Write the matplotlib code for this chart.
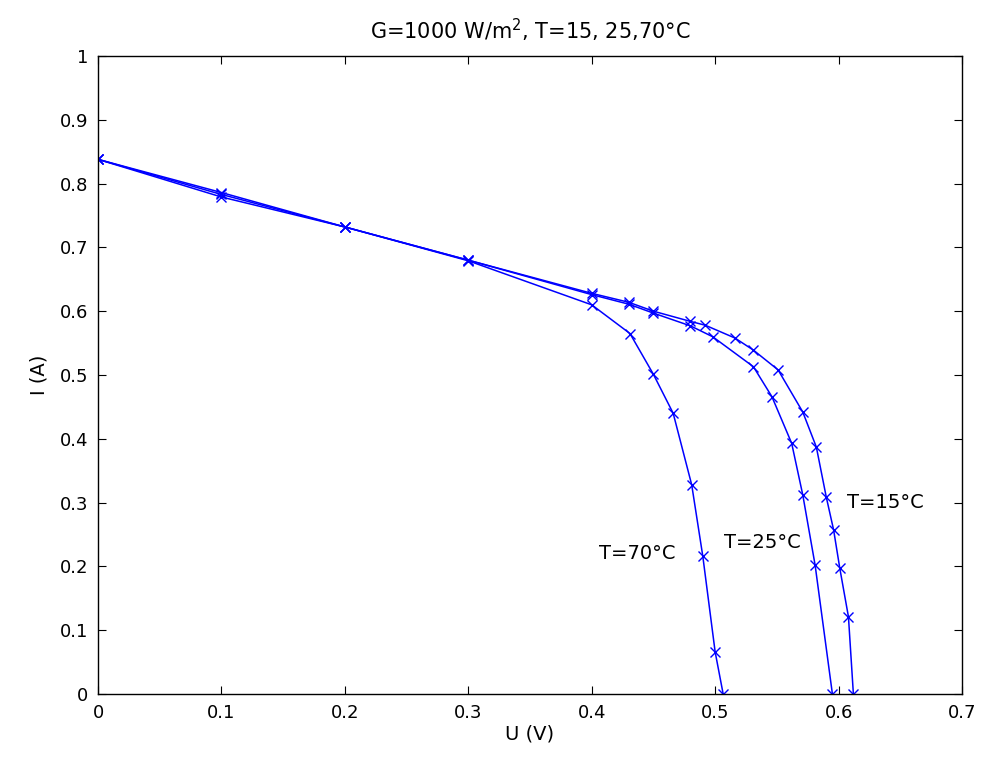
import matplotlib
matplotlib.use("Agg")
import matplotlib.pyplot as plt

u_15 = [0.0, 0.1, 0.2, 0.3, 0.4, 0.43, 0.45, 0.48, 0.492, 0.516, 0.531, 0.551, 0.571, 0.582, 0.590, 0.596, 0.601, 0.608, 0.612]
i_15 = [0.838, 0.786, 0.732, 0.680, 0.628, 0.614, 0.600, 0.584, 0.578, 0.558, 0.539, 0.508, 0.442, 0.387, 0.309, 0.257, 0.197, 0.121, 0.0]

u_25 = [0.0, 0.1, 0.2, 0.3, 0.4, 0.43, 0.45, 0.48, 0.498, 0.531, 0.546, 0.562, 0.571, 0.581, 0.595]
i_25 = [0.838, 0.783, 0.732, 0.680, 0.626, 0.611, 0.597, 0.577, 0.560, 0.513, 0.466, 0.393, 0.312, 0.202, 0.0]

u_70 = [0.0, 0.1, 0.2, 0.3, 0.4, 0.431, 0.450, 0.466, 0.481, 0.490, 0.500, 0.5065]
i_70 = [0.838, 0.779, 0.732, 0.679, 0.610, 0.565, 0.501, 0.440, 0.328, 0.216, 0.066, 0.0]

labels = ["T=15°C", "T=25°C", "T=70°C"]
label_pos = [(0.607, 0.30), (0.507, 0.237), (0.406, 0.221)]

xticks = [0, 0.1, 0.2, 0.3, 0.4, 0.5, 0.6, 0.7]
yticks = [0, 0.1, 0.2, 0.3, 0.4, 0.5, 0.6, 0.7, 0.8, 0.9, 1]

plt.rcParams['font.family'] = ['DejaVu Sans']
fig = plt.figure(figsize=(9.84, 7.7), dpi=100)
ax = fig.add_axes([98/984, 1-694/770, 864/984, 638/770])

for u, i in [(u_15, i_15), (u_25, i_25), (u_70, i_70)]:
    ax.plot(u, i, color=(0, 0, 1), lw=1.1, marker='x', ms=6.5, mew=1.0)

for lab, (x, y) in zip(labels, label_pos):
    ax.text(x, y, lab, fontsize=14, ha='left', va='center')

ax.set_xlim(0, 0.7)
ax.set_ylim(0, 1)
ax.set_xticks(xticks)
ax.set_yticks(yticks)
ax.set_xticklabels([f"{t:g}" for t in xticks])
ax.set_yticklabels([f"{t:g}" for t in yticks])
ax.tick_params(direction='in', top=True, right=True, length=6, labelsize=13, pad=7)
for s in ax.spines.values():
    s.set_linewidth(1.0)
ax.set_xlabel("U (V)", fontsize=14, labelpad=2)
ax.set_ylabel("I (A)", fontsize=14, labelpad=8)
ax.set_title("G=1000 W/m$^2$, T=15, 25,70°C", fontsize=15, pad=12)

fig.savefig("out.png", dpi=100, facecolor='white')
